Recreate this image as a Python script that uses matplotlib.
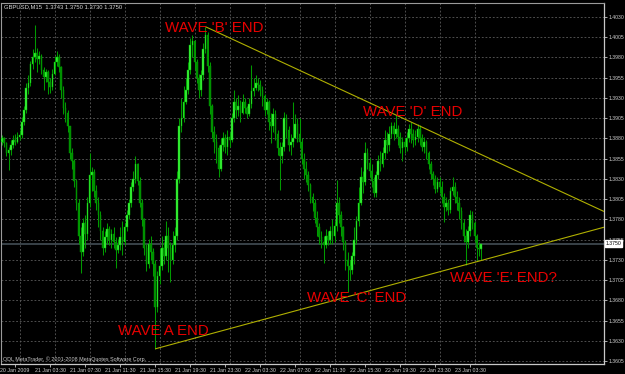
import matplotlib
matplotlib.use("Agg")
import matplotlib.pyplot as plt
import matplotlib.transforms as mtransforms
import numpy as np

# ---------------- data (GBPUSD, M15) ----------------
first_open = 1.3876
closes = [
    1.3880, 1.3874, 1.3862, 1.3866, 1.3872, 1.3878, 1.3876, 1.3882, 1.3884, 1.3900,
    1.3915, 1.3942, 1.3948, 1.3972, 1.3980, 1.3986, 1.3978, 1.3982, 1.3965, 1.3956,
    1.3962, 1.3950, 1.3944, 1.3960, 1.3975, 1.3980, 1.3968, 1.3940, 1.3918, 1.3912,
    1.3895, 1.3862, 1.3852, 1.3828, 1.3800, 1.3760, 1.3740, 1.3775, 1.3762, 1.3800,
    1.3835, 1.3838, 1.3815, 1.3800, 1.3785, 1.3765, 1.3745, 1.3758, 1.3768, 1.3755,
    1.3762, 1.3752, 1.3742, 1.3748, 1.3758, 1.3752, 1.3770, 1.3786, 1.3800, 1.3820,
    1.3830, 1.3848, 1.3828, 1.3800, 1.3780, 1.3745, 1.3725, 1.3750, 1.3740, 1.3725,
    1.3672, 1.3710, 1.3722, 1.3745, 1.3735, 1.3760, 1.3745, 1.3730, 1.3748, 1.3760,
    1.3830, 1.3895, 1.3905, 1.3925, 1.3940, 1.3965, 1.3995, 1.4000, 1.3975, 1.3955,
    1.3940, 1.3958, 1.3990, 1.4008, 1.3970, 1.3920, 1.3888, 1.3875, 1.3868, 1.3842,
    1.3872, 1.3880, 1.3870, 1.3882, 1.3878, 1.3905, 1.3925, 1.3915, 1.3920, 1.3912,
    1.3925, 1.3918, 1.3910, 1.3922, 1.3938, 1.3942, 1.3948, 1.3946, 1.3940, 1.3932,
    1.3915, 1.3925, 1.3900, 1.3895, 1.3910, 1.3885, 1.3868, 1.3858, 1.3870, 1.3905,
    1.3890, 1.3872, 1.3875, 1.3880, 1.3898, 1.3885, 1.3875, 1.3855, 1.3842, 1.3835,
    1.3822, 1.3808, 1.3800, 1.3782, 1.3770, 1.3758, 1.3752, 1.3748, 1.3760, 1.3755,
    1.3765, 1.3760, 1.3772, 1.3800, 1.3785, 1.3770, 1.3752, 1.3730, 1.3722, 1.3718,
    1.3735, 1.3755, 1.3778, 1.3800, 1.3832, 1.3826, 1.3862, 1.3850, 1.3840, 1.3828,
    1.3812, 1.3835, 1.3852, 1.3848, 1.3862, 1.3878, 1.3872, 1.3885, 1.3895, 1.3886,
    1.3892, 1.3882, 1.3868, 1.3875, 1.3870, 1.3880, 1.3892, 1.3885, 1.3878, 1.3882,
    1.3892, 1.3880, 1.3870, 1.3875, 1.3862, 1.3848, 1.3836, 1.3830, 1.3818, 1.3826,
    1.3820, 1.3808, 1.3795, 1.3800, 1.3792, 1.3815, 1.3820, 1.3808, 1.3800, 1.3790,
    1.3775, 1.3760, 1.3752, 1.3765, 1.3785, 1.3775, 1.3760, 1.3745, 1.3743, 1.3750,
]
highs = [
    1.3884, 1.3882, 1.3876, 1.3870, 1.3878, 1.3884, 1.3886, 1.3888, 1.3890, 1.3906,
    1.3920, 1.3948, 1.3958, 1.3976, 1.3990, 1.4020, 1.3992, 1.3988, 1.3984, 1.3968,
    1.3966, 1.3964, 1.3955, 1.3966, 1.3982, 1.3988, 1.3984, 1.3970, 1.3945, 1.3925,
    1.3915, 1.3895, 1.3868, 1.3855, 1.3830, 1.3805, 1.3770, 1.3782, 1.3785, 1.3808,
    1.3862, 1.3845, 1.3842, 1.3822, 1.3808, 1.3790, 1.3770, 1.3765, 1.3775, 1.3772,
    1.3768, 1.3770, 1.3758, 1.3756, 1.3770, 1.3778, 1.3776, 1.3792, 1.3805, 1.3826,
    1.3840, 1.3858, 1.3850, 1.3832, 1.3805, 1.3782, 1.3750, 1.3756, 1.3760, 1.3745,
    1.3730, 1.3716, 1.3745, 1.3760, 1.3752, 1.3778, 1.3770, 1.3752, 1.3765, 1.3770,
    1.3840, 1.3905, 1.3930, 1.3945, 1.3955, 1.3975, 1.4004, 1.4008, 1.4002, 1.3978,
    1.3960, 1.3965, 1.3998, 1.4018, 1.4012, 1.3975, 1.3922, 1.3895, 1.3885, 1.3872,
    1.3880, 1.3888, 1.3886, 1.3890, 1.3888, 1.3912, 1.3940, 1.3930, 1.3934, 1.3928,
    1.3935, 1.3930, 1.3920, 1.3930, 1.3971, 1.3955, 1.3958, 1.3955, 1.3952, 1.3945,
    1.3935, 1.3930, 1.3928, 1.3912, 1.3918, 1.3915, 1.3890, 1.3875, 1.3876, 1.3913,
    1.3910, 1.3895, 1.3885, 1.3925, 1.3910, 1.3905, 1.3905, 1.3880, 1.3862, 1.3852,
    1.3840, 1.3825, 1.3812, 1.3805, 1.3790, 1.3775, 1.3765, 1.3760, 1.3768, 1.3765,
    1.3772, 1.3780, 1.3778, 1.3829, 1.3808, 1.3790, 1.3772, 1.3755, 1.3740, 1.3730,
    1.3740, 1.3770, 1.3784, 1.3820, 1.3845, 1.3840, 1.3875, 1.3868, 1.3856, 1.3848,
    1.3832, 1.3840, 1.3860, 1.3865, 1.3870, 1.3890, 1.3888, 1.3895, 1.3900, 1.3900,
    1.3909, 1.3896, 1.3888, 1.3882, 1.3880, 1.3888, 1.3898, 1.3900, 1.3892, 1.3890,
    1.3898, 1.3896, 1.3886, 1.3882, 1.3878, 1.3865, 1.3852, 1.3840, 1.3835, 1.3832,
    1.3832, 1.3828, 1.3812, 1.3808, 1.3805, 1.3820, 1.3832, 1.3826, 1.3815, 1.3808,
    1.3795, 1.3780, 1.3768, 1.3772, 1.3792, 1.3790, 1.3778, 1.3762, 1.3752, 1.3750,
]
lows = [
    1.3872, 1.3870, 1.3858, 1.3841, 1.3860, 1.3868, 1.3872, 1.3874, 1.3878, 1.3880,
    1.3896, 1.3912, 1.3935, 1.3945, 1.3966, 1.3975, 1.3962, 1.3972, 1.3960, 1.3940,
    1.3950, 1.3935, 1.3936, 1.3940, 1.3958, 1.3970, 1.3962, 1.3930, 1.3910, 1.3900,
    1.3888, 1.3855, 1.3842, 1.3820, 1.3792, 1.3750, 1.3714, 1.3735, 1.3745, 1.3755,
    1.3795, 1.3815, 1.3808, 1.3792, 1.3770, 1.3755, 1.3736, 1.3740, 1.3750, 1.3748,
    1.3745, 1.3745, 1.3720, 1.3738, 1.3742, 1.3736, 1.3748, 1.3765, 1.3780, 1.3795,
    1.3815, 1.3825, 1.3822, 1.3795, 1.3772, 1.3736, 1.3716, 1.3720, 1.3730, 1.3710,
    1.3620, 1.3665, 1.3700, 1.3718, 1.3725, 1.3730, 1.3715, 1.3703, 1.3725, 1.3740,
    1.3755, 1.3825, 1.3888, 1.3900, 1.3922, 1.3935, 1.3960, 1.3980, 1.3965, 1.3948,
    1.3930, 1.3932, 1.3952, 1.3985, 1.3962, 1.3910, 1.3880, 1.3862, 1.3850, 1.3832,
    1.3840, 1.3865, 1.3862, 1.3860, 1.3870, 1.3875, 1.3900, 1.3905, 1.3908, 1.3900,
    1.3910, 1.3912, 1.3905, 1.3908, 1.3918, 1.3932, 1.3940, 1.3938, 1.3932, 1.3920,
    1.3908, 1.3910, 1.3890, 1.3874, 1.3888, 1.3878, 1.3860, 1.3816, 1.3850, 1.3865,
    1.3880, 1.3865, 1.3860, 1.3870, 1.3880, 1.3875, 1.3868, 1.3848, 1.3830, 1.3826,
    1.3815, 1.3800, 1.3790, 1.3775, 1.3760, 1.3750, 1.3745, 1.3726, 1.3745, 1.3748,
    1.3750, 1.3750, 1.3752, 1.3765, 1.3775, 1.3760, 1.3742, 1.3718, 1.3690, 1.3705,
    1.3712, 1.3725, 1.3750, 1.3772, 1.3798, 1.3812, 1.3822, 1.3842, 1.3832, 1.3820,
    1.3808, 1.3808, 1.3830, 1.3840, 1.3845, 1.3855, 1.3862, 1.3865, 1.3880, 1.3878,
    1.3880, 1.3872, 1.3862, 1.3852, 1.3862, 1.3865, 1.3875, 1.3874, 1.3870, 1.3872,
    1.3875, 1.3872, 1.3864, 1.3862, 1.3855, 1.3842, 1.3830, 1.3822, 1.3812, 1.3814,
    1.3812, 1.3800, 1.3777, 1.3790, 1.3785, 1.3788, 1.3810, 1.3800, 1.3792, 1.3780,
    1.3768, 1.3752, 1.3724, 1.3745, 1.3760, 1.3768, 1.3752, 1.3728, 1.3735, 1.3730,
]

price_levels = [1.4030, 1.4005, 1.3980, 1.3955, 1.3930, 1.3905, 1.3880, 1.3855,
                1.3830, 1.3805, 1.3780, 1.3755, 1.3730, 1.3705, 1.3680, 1.3655,
                1.3630, 1.3605]
time_labels = ["20 Jan 2009", "21 Jan 03:30", "21 Jan 07:30", "21 Jan 11:30",
               "21 Jan 15:30", "21 Jan 19:30", "21 Jan 23:30", "22 Jan 03:30",
               "22 Jan 07:30", "22 Jan 11:30", "22 Jan 15:30", "22 Jan 19:30",
               "22 Jan 23:30", "23 Jan 03:30"]
time_label_bars = [6 + 16 * k for k in range(len(time_labels))]
grid_bars = [8 + 16 * k for k in range(len(time_labels))]

# trendline anchors (bar index, price)
upper_line = [(93, 1.4018), (180, 1.3909)]   # wave B -> wave D
lower_line = [(70, 1.3620), (212, 1.3724)]   # wave A -> wave E

waves = [
    ("WAVE 'B' END", 74.5, 1.40164),
    ("WAVE 'D' END", 165.0, 1.3913),
    ("WAVE 'C' END", 139.4, 1.3683),
    ("WAVE A END", 53.0, 1.3642),
    ("WAVE 'E' END?", 204.8, 1.3707),
]
header = "GBPUSD,M15  1.3743 1.3750 1.3730 1.3750"
copyright_txt = "ODL MetaTrader, \u00a9 2001-2008 MetaQuotes Software Corp."

# ---------------- figure ----------------
W, H = 625, 374
fig = plt.figure(figsize=(W / 100, H / 100), dpi=100, facecolor="black")
ax = fig.add_axes([1.5 / W, 1 - 364 / H, (604 - 1.5) / W, (364 - 3) / H])
ax.set_facecolor("black")

XMIN, XMAX = -0.25, 275.2
YMIN, YMAX = 1.36013, 1.40473
ax.set_xlim(XMIN, XMAX)
ax.set_ylim(YMIN, YMAX)

grid_kw = dict(color="#5a5a5a", lw=0.6, ls=(0, (2.2, 2.2)), zorder=0)
for p in price_levels:
    ax.axhline(p, **grid_kw)
for b in grid_bars:
    ax.axvline(b, **grid_kw)

opens = [first_open] + closes[:-1]
idx = np.arange(len(closes))
o = np.array(opens); c = np.array(closes)
h = np.array(highs); l = np.array(lows)

ax.vlines(idx, l, h, color="#009a00", lw=0.75, zorder=2)
up = c >= o
body_lo = np.minimum(o, c)
body_h = np.maximum(np.abs(c - o), 0.00008)
ax.bar(idx[up], body_h[up], bottom=body_lo[up], width=0.72,
       color="#3cf53c", edgecolor="#00bc00", linewidth=0.3, zorder=3)
ax.bar(idx[~up], body_h[~up], bottom=body_lo[~up], width=0.72,
       color="#008e00", edgecolor="#00a000", linewidth=0.3, zorder=3)

# bid line
ax.axhline(closes[-1], color="#3e474e", lw=1.3, zorder=1)

# trendlines (rays to the right edge)
for (x0, y0), (x1, y1) in (upper_line, lower_line):
    slope = (y1 - y0) / (x1 - x0)
    ax.plot([x0, XMAX], [y0, y0 + slope * (XMAX - x0)], color="#b0b000",
            lw=0.8, zorder=4, solid_capstyle="butt")

for txt, xb, yp in waves:
    ax.text(xb, yp, txt, color="#e80000", fontsize=10.8,
            family="Liberation Sans", ha="left", va="center", zorder=5)

# axes / ticks
for s in ("top", "left"):
    ax.spines[s].set_color("#9a9a9a")
    ax.spines[s].set_linewidth(0.8)
for s in ("right", "bottom"):
    ax.spines[s].set_color("#c8c8c8")
    ax.spines[s].set_linewidth(0.9)

ax.yaxis.tick_right()
ax.set_yticks(price_levels)
ax.set_yticklabels([f"{p:.4f}" for p in price_levels])
ax.tick_params(axis="y", length=2, width=0.6, color="#c8c8c8", pad=1.2,
               labelsize=3.7, labelcolor="#d0d0d0")
ax.set_xticks(time_label_bars)
ax.set_xticklabels(time_labels)
ax.tick_params(axis="x", length=2, width=0.6, color="#c8c8c8", pad=0.8,
               labelsize=3.8, labelcolor="#d0d0d0")
for t in ax.get_xticklabels() + ax.get_yticklabels():
    t.set_family("Liberation Sans")

# current price box on the price scale
trans = mtransforms.blended_transform_factory(ax.transAxes, ax.transData)
ax.text(1.0027, closes[-1], f"{closes[-1]:.4f}", transform=trans, ha="left",
        va="center", fontsize=3.7, color="black", family="Liberation Sans",
        bbox=dict(boxstyle="square,pad=0.15", fc="white", ec="white"),
        clip_on=False, zorder=6)

fig.text(4 / W, 1 - 6.5 / H, header, color="#d8d8d8", fontsize=4.2,
         family="Liberation Sans", ha="left", va="center")
fig.text(3 / W, 1 - 359.5 / H, copyright_txt, color="#c8c8c8", fontsize=3.9,
         family="Liberation Sans", ha="left", va="center")

fig.savefig("out.png", dpi=100, facecolor="black")
